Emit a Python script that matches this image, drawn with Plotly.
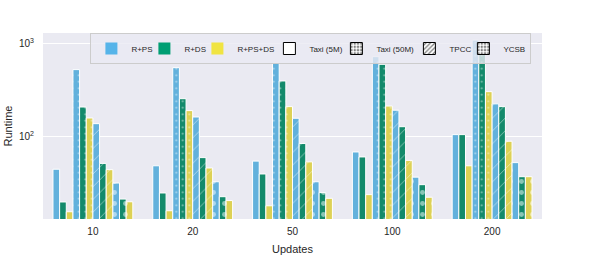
import plotly.graph_objects as go

updates = ["10", "20", "50", "100", "200"]
methods = ["R+PS", "R+DS", "R+PS+DS"]
workloads = ["Taxi (5M)", "Taxi (50M)", "TPCC", "YCSB"]

# runtime per workload and method, one value per update count
taxi5m_ps = [45, 49, 55, 69, 106]
taxi5m_ds = [20, 25, 40, 61, 106]
taxi5m_psds = [15.7, 16.1, 18.2, 24, 49]
taxi50m_ps = [530, 556, 620, 731, 1100]
taxi50m_ds = [210, 258, 400, 604, 1000]
taxi50m_psds = [160, 192, 212, 215, 307]
tpcc_ps = [139, 164, 159, 194, 227]
tpcc_ds = [52, 60, 85, 129, 212]
tpcc_psds = [44.5, 46.4, 54, 56, 90]
ycsb_ps = [32, 33, 33, 37, 53]
ycsb_ds = [21.5, 22.8, 25.2, 30.7, 37.4]
ycsb_psds = [20.1, 20.7, 21.9, 22.5, 37.4]

series = {
    "Taxi (5M)": [taxi5m_ps, taxi5m_ds, taxi5m_psds],
    "Taxi (50M)": [taxi50m_ps, taxi50m_ds, taxi50m_psds],
    "TPCC": [tpcc_ps, tpcc_ds, tpcc_psds],
    "YCSB": [ycsb_ps, ycsb_ds, ycsb_psds],
}

bar_colors = ["#62B1DC", "#138A6B", "#DDD155"]
legend_colors = ["#56B4E9", "#009E73", "#F0E442"]
patterns = {"Taxi (5M)": "", "Taxi (50M)": ".", "TPCC": "/", "YCSB": "."}
psizes = {"Taxi (5M)": 6, "Taxi (50M)": 6.5, "TPCC": 9, "YCSB": 11}
psolid = {"Taxi (5M)": 0.3, "Taxi (50M)": 0.08, "TPCC": 0.1, "YCSB": 0.16}
legend_w_methods = [8, 8, 27]
legend_w_workloads = [22, 28, 9, 22]

fig = go.Figure()
k = 0
for w in workloads:
    for i, m in enumerate(methods):
        fig.add_trace(go.Bar(
            x=updates, y=series[w][i], name=f"{m} {w}",
            offsetgroup=f"g{k}", showlegend=False,
            marker=dict(color=bar_colors[i],
                        line=dict(color="white", width=1),
                        pattern=dict(shape=patterns[w], fgcolor="white",
                                     size=psizes[w], solidity=psolid[w])),
        ))
        k += 1

for i, m in enumerate(methods):
    fig.add_trace(go.Bar(x=[None], y=[None], name=m, offsetgroup="g0",
                         legendwidth=legend_w_methods[i],
                         marker=dict(color=legend_colors[i], line=dict(width=0))))
for j, w in enumerate(workloads):
    fig.add_trace(go.Bar(x=[None], y=[None], name=w, offsetgroup="g0",
                         legendwidth=legend_w_workloads[j],
                         marker=dict(color="white", line=dict(color="black", width=1),
                                     pattern=dict(shape=patterns[w], fgcolor="black",
                                                  size=4, solidity=0.4))))

fig.update_layout(
    width=598, height=275,
    margin=dict(l=43, r=56, t=33, b=56, pad=0),
    paper_bgcolor="white", plot_bgcolor="#EAEAF2",
    font=dict(family="Liberation Sans, Arial, sans-serif", size=11, color="#262626"),
    barmode="group", bargap=0.2, bargroupgap=0,
    legend=dict(orientation="h", x=0.095, y=1.0, xanchor="left", yanchor="top",
                bgcolor="rgba(234,234,242,0.8)", bordercolor="#CCCCCC", borderwidth=1,
                font=dict(size=8), itemwidth=30, tracegroupgap=0, traceorder="normal"),
    xaxis=dict(type="category", showgrid=False, ticks="", automargin=False,
               ticklabelstandoff=5,
               title=dict(text="Updates", standoff=9, font=dict(size=11)),
               tickfont=dict(size=10)),
    yaxis=dict(type="log", range=[1.118, 3.118], tickvals=[100, 1000],
               ticktext=["10<sup>2</sup>", "10<sup>3</sup>"], gridcolor="white", gridwidth=1,
               zeroline=False, ticks="", ticklabelstandoff=8, automargin=False,
               title=dict(text="Runtime", standoff=4, font=dict(size=11)),
               tickfont=dict(size=10)),
)

fig.write_html("out.html", config={"displayModeBar": False},
               post_script="document.body.style.margin='0';")
